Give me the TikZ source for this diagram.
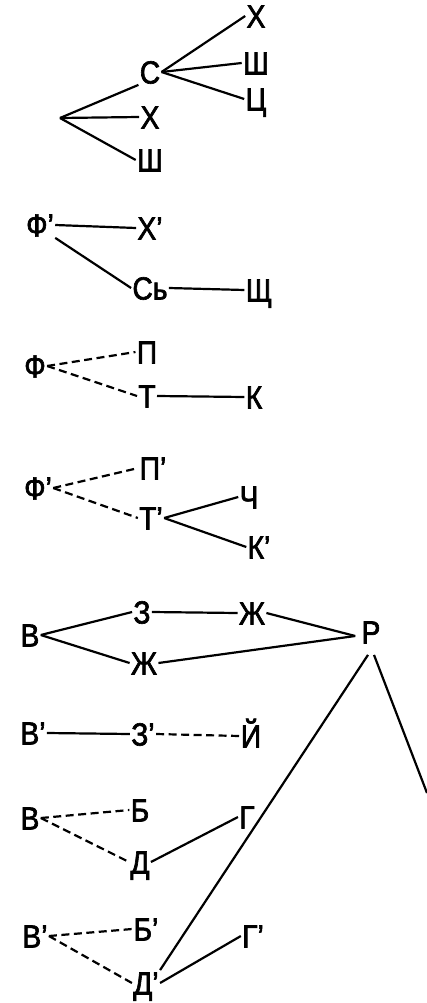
\documentclass[tikz,border=0pt]{standalone}
\usepackage{fontspec}
\setmainfont{Liberation Sans}[FakeStretch=0.88,FakeBold=2]
\begin{document}
\begin{tikzpicture}[x=1pt,y=-1pt,
  lt/.style={font=\fontsize{32}{32}\selectfont, inner sep=1.2pt,
             text height=23pt, text depth=0pt},
  edge/.style={line width=2.2pt},
  dedge/.style={line width=2.2pt, dash pattern=on 8pt off 4.5pt}]
\useasboundingbox (0,0) rectangle (427,1003);

% ---- С / Х / Ш fan
\coordinate (a0) at (60,118);
\node[lt] (C1)  at (150,72)  {С};
\node[lt] (X1)  at (150,117) {Х};
\node[lt] (Sh1) at (150,160) {Ш};
\node[lt] (X2)  at (256,16)  {Х};
\node[lt] (Sh2) at (256,63)  {Ш};
\node[lt] (Ts2) at (256,99)  {Ц};
\draw[edge] (a0) -- (C1.south west);
\draw[edge] (a0) -- (X1.west);
\draw[edge] (a0) -- (Sh1.west);
\draw[edge] (C1.east) -- (X2.west);
\draw[edge] (C1.east) -- (Sh2.west);
\draw[edge] (C1.east) -- (Ts2.west);

% ---- Ф' / Х' / Сь / Щ
\node[lt] (F2)   at (40,225)  {Ф'};
\node[lt] (X3)   at (150,228) {Х'};
\node[lt] (Sb)   at (150,288) {Сь};
\node[lt] (Shch) at (259,290) {Щ};
\draw[edge] (F2.east) -- (X3.west);
\draw[edge] (F2.south east) -- (Sb.west);
\draw[edge] (Sb.east) -- (Shch.west);

% ---- Ф / П / Т / К
\node[lt] (F3) at (35,366)  {Ф};
\node[lt] (P3) at (147,352) {П};
\node[lt] (T3) at (147,396) {Т};
\node[lt] (K3) at (254,397) {К};
\draw[dedge] (F3.east) -- (P3.west);
\draw[dedge] (F3.east) -- (T3.west);
\draw[edge] (T3.east) -- (K3.west);

% ---- Ф' / П' / Т' / Ч / К'
\node[lt] (F4)  at (38,488)  {Ф'};
\node[lt] (P4)  at (153,468) {П'};
\node[lt] (T4)  at (151,518) {Т'};
\node[lt] (Ch4) at (249,497) {Ч};
\node[lt] (K4)  at (259,547) {К'};
\draw[dedge] (F4.east) -- (P4.west);
\draw[dedge] (F4.east) -- (T4.west);
\draw[edge] (T4.east) -- (Ch4.west);
\draw[edge] (T4.east) -- (K4.west);

% ---- В / З / Ж / Ж / Р
\node[lt] (B5)  at (30,635)  {В};
\node[lt] (Z5)  at (142,612) {З};
\node[lt] (Zh5) at (252,613) {Ж};
\node[lt] (Zh6) at (144,663) {Ж};
\node[lt] (R)   at (371,632) {Р};
\coordinate (Ra) at ([xshift=-5pt,yshift=-4pt]R.west);
\coordinate (Rb) at ([yshift=-10pt]R.south);
\coordinate (Rend) at (427,793);
\draw[edge] (B5.east) -- (Z5.west);
\draw[edge] (B5.east) -- (Zh6.west);
\draw[edge] (Z5.east) -- (Zh5.west);
\draw[edge] (Zh5.east) -- (Ra);
\draw[edge] (Zh6.east) -- (Ra);
\draw[edge] ([xshift=3pt]Rb) -- (Rend);

% ---- В' / З' / Й
\node[lt] (B6) at (33,733)  {В'};
\node[lt] (Z6) at (143,734) {З'};
\node[lt] (J6) at (251,736) {Й};
\draw[edge] (B6.east) -- (Z6.west);
\draw[dedge] (Z6.east) -- (J6.west);

% ---- В / Б / Д / Г
\node[lt] (B7)  at (30,818)  {В};
\node[lt] (Bb7) at (140,810) {Б};
\node[lt] (D7)  at (140,862) {Д};
\node[lt] (G7)  at (247,817) {Г};
\draw[dedge] (B7.east) -- (Bb7.west);
\draw[dedge] (B7.east) -- (D7.west);
\draw[edge] (D7.east) -- (G7.west);

% ---- В' / Б' / Д' / Г'
\node[lt] (B8)  at (35,936)  {В'};
\node[lt] (Bb8) at (146,929) {Б'};
\node[lt] (D8)  at (146,983) {Д'};
\node[lt] (G8)  at (253,936) {Г'};
\draw[dedge] (B8.east) -- (Bb8.west);
\draw[dedge] (B8.east) -- (D8.west);
\draw[edge] (D8.east) -- (G8.west);
\draw[edge] ([xshift=-3pt]Rb) -- (D8.north east);
\end{tikzpicture}
\end{document}
